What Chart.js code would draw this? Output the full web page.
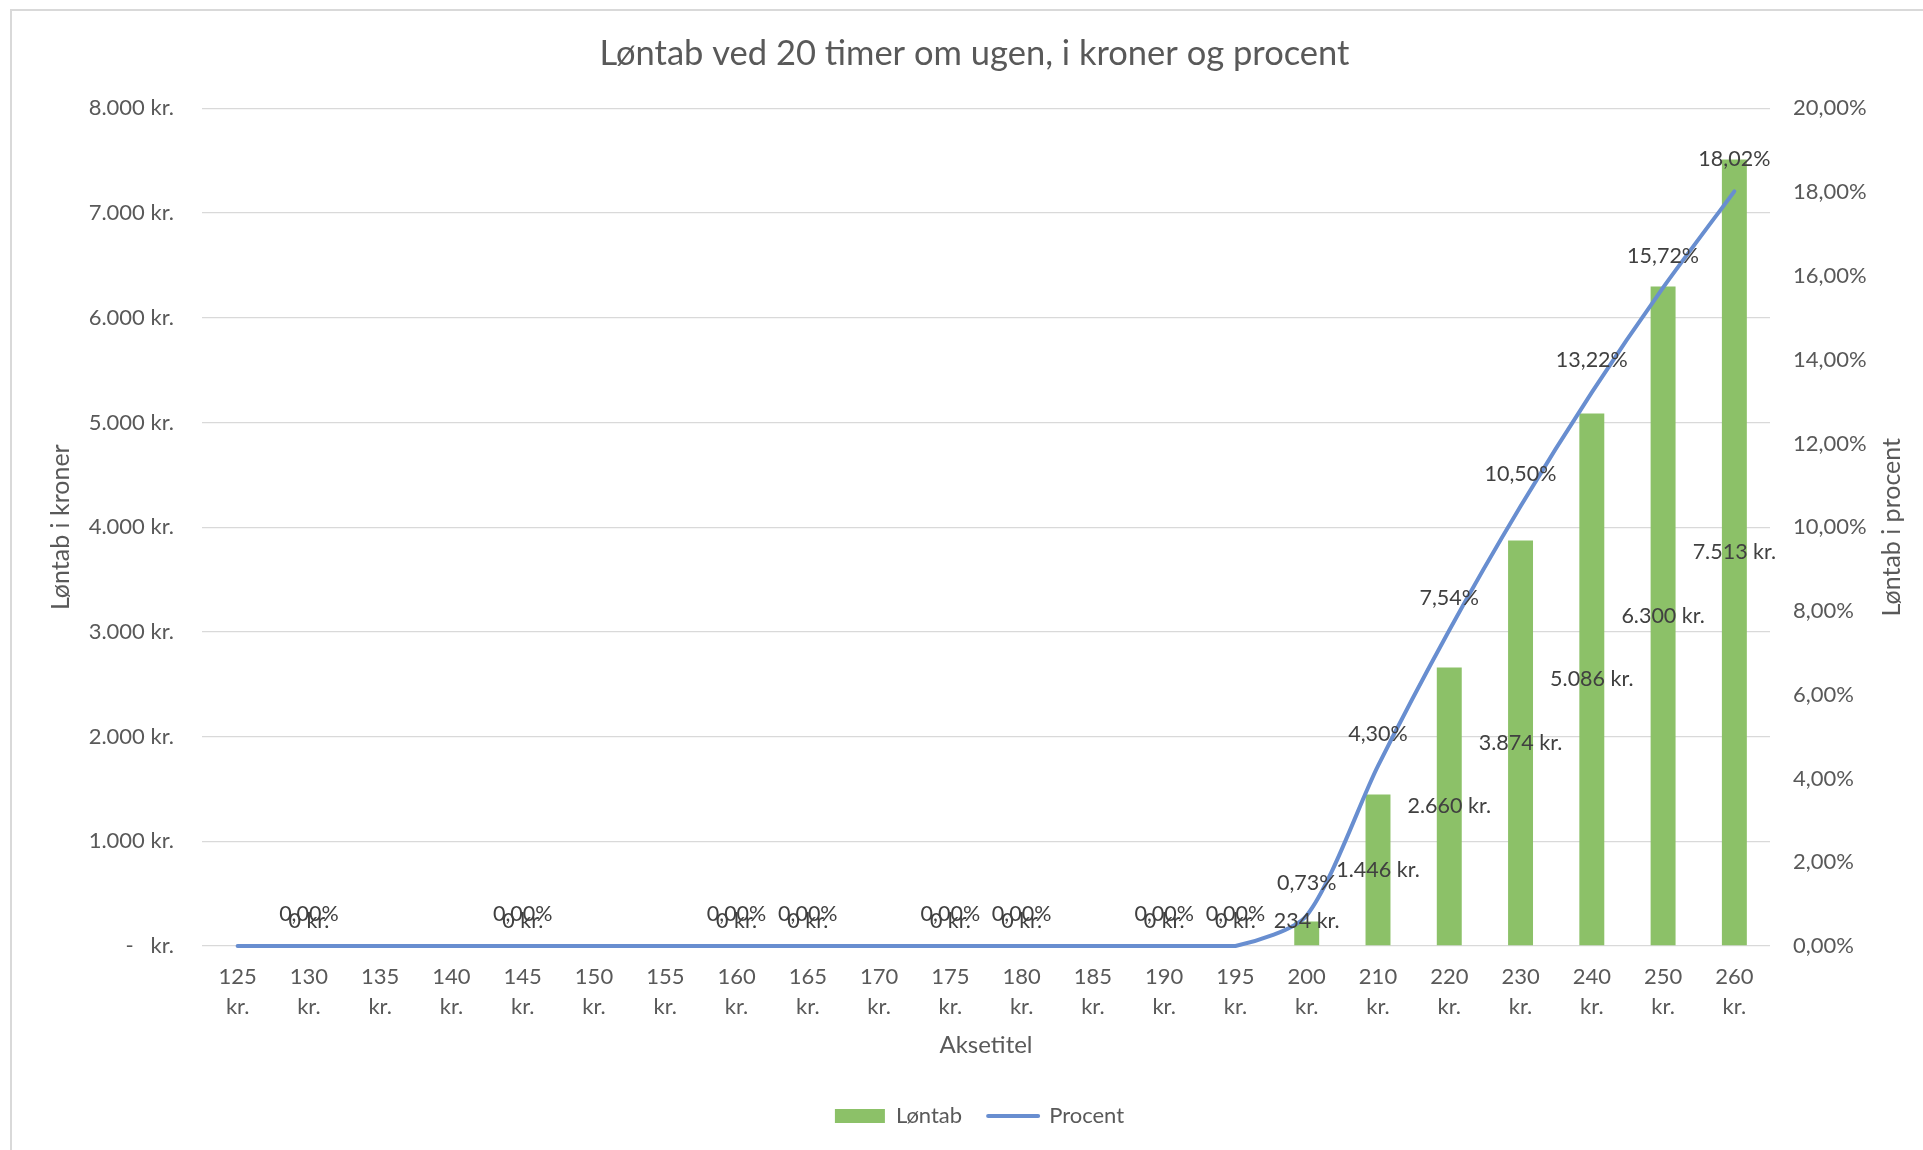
<!DOCTYPE html>
<html>
<head>
<meta charset="utf-8">
<title>Løntab ved 20 timer om ugen</title>
<script src="https://cdn.jsdelivr.net/npm/chart.js@4.4.1/dist/chart.umd.min.js"></script>
<style>
    html, body { margin: 0; padding: 0; background: #ffffff; overflow: hidden; }
    #frame { position: absolute; left: 10px; top: 9px; width: 2000px; height: 1300px; border-left: 2px solid #d9d9d9; border-top: 2px solid #d9d9d9; }
    #wrap { position: absolute; left: 0; top: 0; width: 1923px; height: 1150px; }
</style>
</head>
<body>
<div id="frame"></div>
<div id="wrap"><canvas id="lonChart"></canvas></div>
<script>
// timeløn (x-akse)
const categories = ['125 kr.', '130 kr.', '135 kr.', '140 kr.', '145 kr.', '150 kr.', '155 kr.', '160 kr.',
                    '165 kr.', '170 kr.', '175 kr.', '180 kr.', '185 kr.', '190 kr.', '195 kr.', '200 kr.',
                    '210 kr.', '220 kr.', '230 kr.', '240 kr.', '250 kr.', '260 kr.'];
// løntab i kroner
const lontab = [0, 0, 0, 0, 0, 0, 0, 0, 0, 0, 0, 0, 0, 0, 0, 234, 1446, 2660, 3874, 5086, 6300, 7513];
// løntab i procent
const procent = [0, 0, 0, 0, 0, 0, 0, 0, 0, 0, 0, 0, 0, 0, 0, 0.73, 4.30, 7.54, 10.50, 13.22, 15.72, 18.02];
// kategorier hvor Excel viser dataetiketter
const labelledCats = ['130 kr.', '145 kr.', '160 kr.', '165 kr.', '175 kr.', '180 kr.', '190 kr.', '195 kr.',
                      '200 kr.', '210 kr.', '220 kr.', '230 kr.', '240 kr.', '250 kr.', '260 kr.'];
// akse-ticks
const kronerTicks = [0, 1000, 2000, 3000, 4000, 5000, 6000, 7000, 8000];
const procentTicks = [0, 2, 4, 6, 8, 10, 12, 14, 16, 18, 20];

const FONT = 'Lato, "Open Sans", sans-serif';
const GREEN = '#8cc168';
const BLUE = '#688ed0';

function formatKr(v)
{
    if (v === 0) return '0 kr.';
    return String(v).replace(/\B(?=(\d{3})+(?!\d))/g, '.') + ' kr.';
}
function formatPct(v)
{
    return v.toFixed(2).replace('.', ',') + '%';
}

const labelPlugin = {
    id: 'excelLabels',
    afterLayout(chart)
    {
        // Excel centrerer titel og forklaring lidt til højre for lærredets midte
        chart.titleBlock.left += 13;
        chart.titleBlock.right += 13;
        chart.legend.left += 18;
        chart.legend.right += 18;
    },
    afterDatasetsDraw(chart)
    {
        const ctx = chart.ctx;
        const base = chart.scales.y.getPixelForValue(0);
        ctx.save();
        ctx.font = '21.5px ' + FONT;
        ctx.fillStyle = '#404040';
        ctx.textAlign = 'center';
        ctx.textBaseline = 'middle';
        chart.getDatasetMeta(1).data.forEach((bar, i) =>
        {
            if (!labelledCats.includes(categories[i])) return;
            const y = Math.min((bar.y + bar.base) / 2, base - 25);
            ctx.fillText(formatKr(lontab[i]), bar.x, y);
        });
        chart.getDatasetMeta(0).data.forEach((pt, i) =>
        {
            if (!labelledCats.includes(categories[i])) return;
            ctx.fillText(formatPct(procent[i]), pt.x, pt.y - 32);
        });
        // højre aksetitel, læses nedefra og op som i Excel
        const area = chart.chartArea;
        ctx.font = '25px ' + FONT;
        ctx.fillStyle = '#595959';
        ctx.translate(1892, (area.top + area.bottom) / 2);
        ctx.rotate(-Math.PI / 2);
        ctx.fillText('Løntab i procent', 0, 0);
        ctx.restore();
    }
};

const ctx = document.getElementById('lonChart').getContext('2d');
new Chart(ctx, {
    data:
    {
        labels: categories,
        datasets:
        [
            {
                type: 'line',
                label: 'Procent',
                data: procent,
                yAxisID: 'y1',
                borderColor: BLUE,
                backgroundColor: BLUE,
                borderWidth: 4,
                borderCapStyle: 'round',
                borderJoinStyle: 'round',
                tension: 0.25,
                pointRadius: 0,
                clip: false,
                order: 0
            },
            {
                type: 'bar',
                label: 'Løntab',
                data: lontab,
                yAxisID: 'y',
                backgroundColor: GREEN,
                barPercentage: 0.35,
                categoryPercentage: 1,
                order: 1
            }
        ]
    },
    options:
    {
        responsive: true,
        maintainAspectRatio: false,
        animation: false,
        layout: { padding: { left: 0, right: 0, top: 0, bottom: 13 } },
        plugins:
        {
            title:
            {
                display: true,
                text: 'Løntab ved 20 timer om ugen, i kroner og procent',
                color: '#595959',
                font: { family: FONT, size: 34.5, weight: 'normal', lineHeight: 1.2 },
                padding: { top: 33, bottom: 34 }
            },
            legend:
            {
                position: 'bottom',
                labels:
                {
                    color: '#595959',
                    font: { family: FONT, size: 22 },
                    usePointStyle: true,
                    pointStyleWidth: 50,
                    boxHeight: 14,
                    padding: 26,
                    generateLabels(chart)
                    {
                        return [
                            { text: 'Løntab', fillStyle: GREEN, strokeStyle: GREEN, lineWidth: 0, pointStyle: 'rect', datasetIndex: 1, fontColor: '#595959' },
                            { text: 'Procent', fillStyle: BLUE, strokeStyle: BLUE, lineWidth: 4, lineCap: 'round', pointStyle: 'line', datasetIndex: 0, fontColor: '#595959' }
                        ];
                    }
                }
            },
            tooltip: { enabled: false }
        },
        scales:
        {
            x:
            {
                grid: { display: false, drawTicks: false },
                border: { display: false },
                ticks:
                {
                    color: '#595959',
                    font: { family: FONT, size: 22, lineHeight: 1.36 },
                    padding: 16,
                    maxRotation: 0,
                    autoSkip: false,
                    callback: function(value, index) { return categories[index].split(' '); }
                },
                title:
                {
                    display: true,
                    text: 'Aksetitel',
                    color: '#595959',
                    font: { family: FONT, size: 24, lineHeight: 1.2 },
                    padding: { top: 0, bottom: 19 }
                },
                afterFit: function(scale) { scale.height = 133; }
            },
            y:
            {
                position: 'left',
                min: 0,
                max: 8000,
                afterBuildTicks: function(scale) { scale.ticks = kronerTicks.map(v => ({ value: v })); },
                grid: { color: '#d9d9d9', lineWidth: 1.3, drawTicks: false },
                border: { display: false },
                ticks:
                {
                    color: '#595959',
                    font: { family: FONT, size: 22 },
                    padding: 28,
                    callback: function(v) { return v === 0 ? '-   kr.' : formatKr(v); }
                },
                title:
                {
                    display: true,
                    text: 'Løntab i kroner',
                    color: '#595959',
                    font: { family: FONT, size: 25, lineHeight: 1.2 },
                    padding: { top: 46, bottom: 0 }
                },
                afterFit: function(scale) { scale.width = 202; }
            },
            y1:
            {
                position: 'right',
                min: 0,
                max: 20,
                afterBuildTicks: function(scale) { scale.ticks = procentTicks.map(v => ({ value: v })); },
                grid: { display: false, drawTicks: false },
                border: { display: false },
                ticks:
                {
                    color: '#595959',
                    font: { family: FONT, size: 22 },
                    padding: 23,
                    callback: function(v) { return formatPct(v); }
                },
                afterFit: function(scale) { scale.width = 153; }
            }
        }
    },
    plugins: [labelPlugin]
});
</script>
</body>
</html>
